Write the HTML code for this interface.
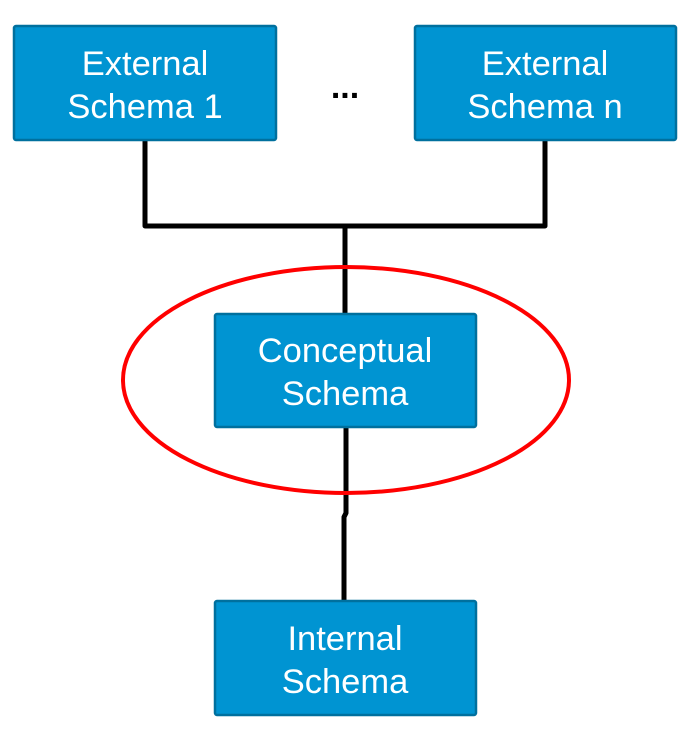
<!DOCTYPE html>
<html><head><style>
body{margin:0;background:#fff;width:693px;height:740px;overflow:hidden}
</style></head><body>
<svg width="693" height="740" xmlns="http://www.w3.org/2000/svg" style="font-family:'Liberation Sans',sans-serif">
<g stroke="#000" stroke-width="5" fill="none" stroke-linejoin="round">
<polyline points="145,140 145,226 545,226 545,140"/>
<line x1="345" y1="226" x2="345" y2="314"/>
<polyline points="346,427 346,513 344,517 344,601"/>
</g>
<g fill="#0094d2" stroke="#00709e" stroke-width="2.5">
<rect x="14" y="26" width="262" height="114" rx="2"/>
<rect x="415" y="26" width="261" height="114" rx="2"/>
<rect x="215" y="314" width="261" height="113" rx="2"/>
<rect x="215" y="601" width="261" height="114" rx="2"/>
</g>
<ellipse cx="346" cy="380" rx="223" ry="113" fill="none" stroke="#f00" stroke-width="4"/>
<g fill="#fff" font-size="34.5" text-anchor="middle">
<text x="145" y="75">External</text><text x="145" y="118">Schema 1</text>
<text x="545" y="75">External</text><text x="545" y="118">Schema n</text>
<text x="345" y="362">Conceptual</text><text x="345" y="405">Schema</text>
<text x="345" y="650">Internal</text><text x="345" y="693">Schema</text>
</g>
<text x="345" y="98" font-size="34" font-weight="bold" text-anchor="middle" fill="#000">...</text>
</svg>
</body></html>
